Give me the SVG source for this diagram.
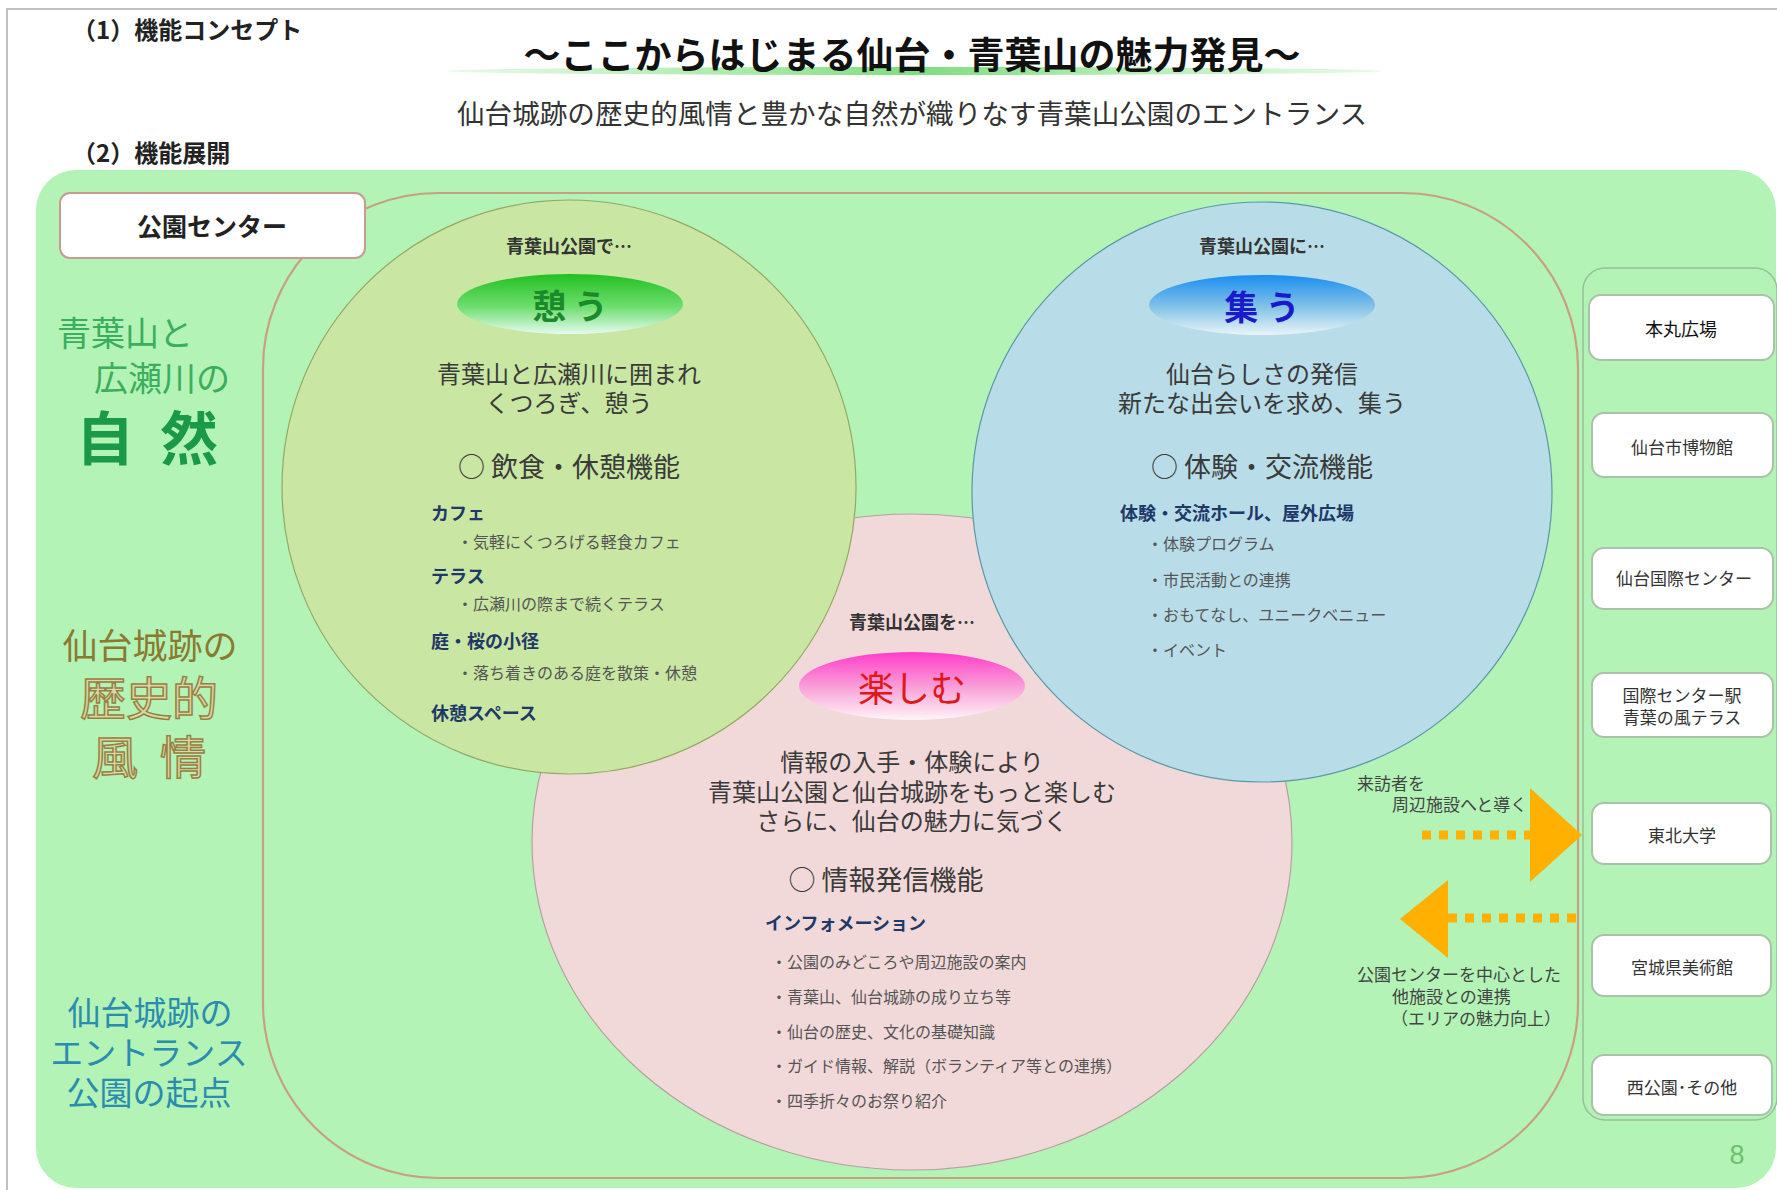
<svg xmlns="http://www.w3.org/2000/svg" width="1777" height="1190" viewBox="0 0 1777 1190">
<defs>
<style>
text{font-family:'Noto Sans CJK JP','Noto Sans',sans-serif;}
.c{text-anchor:middle;dominant-baseline:central;}
.l{dominant-baseline:central;}
.hd{font-size:24px;font-weight:bold;fill:#222;}
.body{font-size:24px;fill:#3a3a3a;}
.fn{font-size:27px;fill:#3a3a3a;}
.pre{font-size:18px;fill:#333;font-weight:bold;}
.cat{font-size:18px;font-weight:bold;fill:#1e3868;}
.it{font-size:16px;fill:#555;}
.box{fill:#fff;stroke:#a9c2a9;stroke-width:2;}
.bt{font-size:17px;fill:#333;}
.note{font-size:17px;fill:#444;}
.dots{stroke:#ffb000;stroke-width:9;stroke-dasharray:9 8;fill:none;}
.head{fill:#ffb000;}
.old{fill:#d6d9a8;stroke:#9a8040;stroke-width:1.5;font-size:46px;}
.teal{font-size:33px;fill:#2a8cae;}
</style>
<linearGradient id="gUl" x1="0" y1="0" x2="1" y2="0">
<stop offset="0" stop-color="#8ee68e" stop-opacity="0.2"/>
<stop offset="0.5" stop-color="#7fdd7f"/>
<stop offset="1" stop-color="#8ee68e" stop-opacity="0.2"/>
</linearGradient>
<linearGradient id="gG" x1="0" y1="0" x2="0" y2="1">
<stop offset="0" stop-color="#22c022"/>
<stop offset="0.55" stop-color="#6ede6e"/>
<stop offset="1" stop-color="#e6faf0"/>
</linearGradient>
<linearGradient id="gB" x1="0" y1="0" x2="0" y2="1">
<stop offset="0" stop-color="#1a8ef0"/>
<stop offset="0.55" stop-color="#86c4e8"/>
<stop offset="1" stop-color="#eaf5f8"/>
</linearGradient>
<linearGradient id="gP" x1="0" y1="0" x2="0" y2="1">
<stop offset="0" stop-color="#ff3cc8"/>
<stop offset="0.55" stop-color="#f8a6da"/>
<stop offset="1" stop-color="#fff4f8"/>
</linearGradient>
</defs>

<rect x="0" y="0" width="1777" height="1190" fill="#fff"/>
<rect x="7" y="9" width="1800" height="1200" fill="#fff" stroke="#c0c0c0" stroke-width="2"/>

<g id="header">
<text class="l hd" x="72" y="28">（1）機能コンセプト</text>
<ellipse cx="915" cy="71" rx="467" ry="4" fill="url(#gUl)"/>
<text class="c" x="912" y="53" font-size="37" font-weight="bold" fill="#111">～ここからはじまる仙台・青葉山の魅力発見～</text>
<text class="c" x="912" y="112" font-size="27.6" fill="#333">仙台城跡の歴史的風情と豊かな自然が織りなす青葉山公園のエントランス</text>
<text class="l hd" x="72" y="151">（2）機能展開</text>
</g>

<rect id="panel" x="36" y="170" width="1740" height="1018" rx="40" fill="#b3f3b6"/>
<rect id="park-area" x="263" y="193" width="1315" height="985" rx="175" fill="none" stroke="#c8a080" stroke-width="2.2"/>

<g id="left-labels">
<text class="l" x="57" y="331" font-size="34" fill="#3aae5e">青葉山と</text>
<text class="l" x="94" y="376" font-size="34" fill="#3aae5e">広瀬川の</text>
<text class="c" y="435" font-size="58" font-weight="bold" fill="#1a9a48"><tspan x="105">自</tspan><tspan x="189">然</tspan></text>
<text class="c" x="150" y="643" font-size="35" fill="#8a7a30">仙台城跡の</text>
<text class="c old" x="149" y="695">歴史的</text>
<text class="c old" y="754"><tspan x="115">風</tspan><tspan x="183">情</tspan></text>
<text class="c teal" x="150" y="1011">仙台城跡の</text>
<text class="c teal" x="149" y="1051">エントランス</text>
<text class="c teal" x="149" y="1091">公園の起点</text>
</g>

<g id="node-tanoshimu">
<ellipse cx="912" cy="842" rx="380" ry="328" fill="#f2d9d9" stroke="#b8a0a0" stroke-width="1.2"/>
<text class="c pre" x="912" y="621">青葉山公園を…</text>
<ellipse cx="912" cy="686" rx="113" ry="34" fill="url(#gP)"/>
<text class="c" x="912" y="686" font-size="36" fill="#e01818">楽しむ</text>
<text class="c body" x="912" y="760">情報の入手・体験により</text>
<text class="c body" x="912" y="790">青葉山公園と仙台城跡をもっと楽しむ</text>
<text class="c body" x="912" y="819">さらに、仙台の魅力に気づく</text>
<text class="c fn" x="886" y="878">○ 情報発信機能</text>
<text class="l cat" x="765" y="922">インフォメーション</text>
<text class="l it" x="771" y="961">・公園のみどころや周辺施設の案内</text>
<text class="l it" x="771" y="996">・青葉山、仙台城跡の成り立ち等</text>
<text class="l it" x="771" y="1031">・仙台の歴史、文化の基礎知識</text>
<text class="l it" x="771" y="1065">・ガイド情報、解説（ボランティア等との連携）</text>
<text class="l it" x="771" y="1100">・四季折々のお祭り紹介</text>
</g>

<g id="node-ikou">
<circle cx="569" cy="487" r="287" fill="#c9e6a2" stroke="#94a866" stroke-width="1.2"/>
<text class="c pre" x="569" y="245">青葉山公園で…</text>
<ellipse cx="570" cy="304" rx="113" ry="30" fill="url(#gG)"/>
<text class="c" x="570" y="304" font-size="34" font-weight="bold" fill="#1a8a2a">憩 う</text>
<text class="c body" x="569" y="372">青葉山と広瀬川に囲まれ</text>
<text class="c body" x="569" y="401">くつろぎ、憩う</text>
<text class="c fn" x="569" y="465">○ 飲食・休憩機能</text>
<text class="l cat" x="431" y="512">カフェ</text>
<text class="l it" x="457" y="541">・気軽にくつろげる軽食カフェ</text>
<text class="l cat" x="431" y="575">テラス</text>
<text class="l it" x="457" y="603">・広瀬川の際まで続くテラス</text>
<text class="l cat" x="431" y="640">庭・桜の小径</text>
<text class="l it" x="457" y="672">・落ち着きのある庭を散策・休憩</text>
<text class="l cat" x="431" y="712">休憩スペース</text>
</g>

<g id="node-tsudou">
<circle cx="1262" cy="492" r="290" fill="#b8dde8" stroke="#5a98a8" stroke-width="1.2"/>
<text class="c pre" x="1262" y="245">青葉山公園に…</text>
<ellipse cx="1262" cy="305" rx="113" ry="30" fill="url(#gB)"/>
<text class="c" x="1262" y="305" font-size="34" font-weight="bold" fill="#1a1acc">集 う</text>
<text class="c body" x="1262" y="372">仙台らしさの発信</text>
<text class="c body" x="1262" y="401">新たな出会いを求め、集う</text>
<text class="c fn" x="1262" y="465">○ 体験・交流機能</text>
<text class="l cat" x="1120" y="512">体験・交流ホール、屋外広場</text>
<text class="l it" x="1147" y="543">・体験プログラム</text>
<text class="l it" x="1147" y="579">・市民活動との連携</text>
<text class="l it" x="1147" y="614">・おもてなし、ユニークベニュー</text>
<text class="l it" x="1147" y="649">・イベント</text>
</g>

<g id="node-park-center">
<rect x="60" y="193" width="305" height="65" rx="10" fill="#fff" stroke="#c89a90" stroke-width="2"/>
<text class="c" x="212" y="225" font-size="25" font-weight="bold" fill="#222">公園センター</text>
</g>

<rect id="facility-panel" x="1583" y="268" width="194" height="852" rx="22" fill="#b3f3b6" stroke="#98c09a" stroke-width="1.5"/>

<g id="node-honmaru"><rect class="box" x="1589" y="295" width="185" height="65" rx="12" stroke-width="2.5"/><text class="c" x="1681" y="328" font-size="18" fill="#111">本丸広場</text></g>
<g id="node-museum"><rect class="box" x="1592" y="413" width="181" height="64" rx="12"/><text class="c bt" x="1682" y="446">仙台市博物館</text></g>
<g id="node-intl-center"><rect class="box" x="1592" y="548" width="181" height="61" rx="12"/><text class="c bt" x="1684" y="577">仙台国際センター</text></g>
<g id="node-station"><rect class="box" x="1592" y="673" width="181" height="64" rx="12"/><text class="c bt" x="1682" y="694">国際センター駅</text><text class="c bt" x="1682" y="716">青葉の風テラス</text></g>
<g id="node-tohoku"><rect class="box" x="1592" y="803" width="179" height="61" rx="12"/><text class="c bt" x="1682" y="834">東北大学</text></g>
<g id="node-art"><rect class="box" x="1592" y="935" width="179" height="61" rx="12"/><text class="c bt" x="1682" y="966">宮城県美術館</text></g>
<g id="node-nishi"><rect class="box" x="1592" y="1055" width="180" height="60" rx="12"/><text class="c bt" x="1682" y="1086">西公園･その他</text></g>

<g id="connectors">
<line class="dots" x1="1422" y1="835" x2="1530" y2="835"/>
<polygon class="head" points="1530,788 1530,882 1582,835"/>
<line class="dots" x1="1448" y1="918" x2="1580" y2="918"/>
<polygon class="head" points="1400,919 1448,880 1448,958"/>
<text class="l note" x="1357" y="782">来訪者を</text>
<text class="l note" x="1392" y="803">周辺施設へと導く</text>
<text class="l note" x="1357" y="973">公園センターを中心とした</text>
<text class="l note" x="1392" y="995">他施設との連携</text>
<text class="l note" x="1391" y="1017">（エリアの魅力向上）</text>
</g>

<text class="c" x="1737" y="1155" font-size="27" fill="#6fbf6f" style="font-family:'Liberation Sans',sans-serif">8</text>
</svg>
